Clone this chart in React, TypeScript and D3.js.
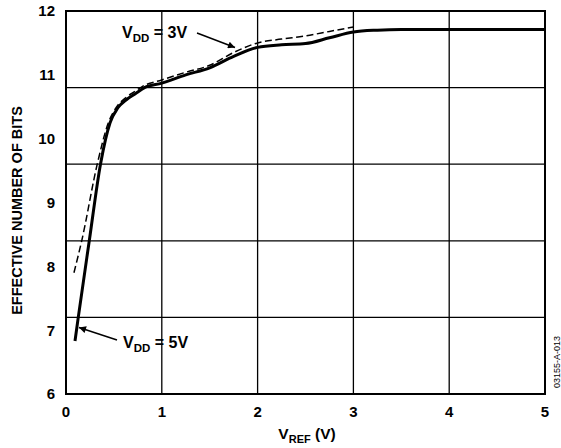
import React from "react";
import * as d3 from "d3";

const xTicks = [0, 1, 2, 3, 4, 5];
const yTicks = [6, 7, 8, 9, 10, 11, 12];
const yGrid = [7.2, 8.4, 9.6, 10.8];

const vref5 = [0.094, 0.128, 0.243, 0.36, 0.46, 0.54, 0.63, 0.72, 0.82, 1.0, 1.25, 1.5, 1.75, 2.0, 2.25, 2.5, 2.75, 3.0, 3.25, 3.5, 4.0, 5.0];
const enob5 = [6.83, 7.2, 8.4, 9.6, 10.25, 10.48, 10.61, 10.7, 10.8, 10.87, 11.0, 11.11, 11.29, 11.43, 11.47, 11.49, 11.58, 11.67, 11.7, 11.71, 11.71, 11.71];

const vref3 = [0.083, 0.164, 0.326, 0.44, 0.53, 0.63, 0.72, 0.8, 1.0, 1.25, 1.5, 1.75, 2.0, 2.25, 2.5, 2.75, 3.0];
const enob3 = [7.9, 8.4, 9.6, 10.24, 10.5, 10.65, 10.74, 10.82, 10.92, 11.04, 11.15, 11.35, 11.5, 11.56, 11.61, 11.68, 11.75];

const FONT = "Arial, 'Liberation Sans', Helvetica, sans-serif";

export default function App() {
  const W = 561, H = 448;
  const left = 66, right = 545, top = 11, bottom = 394;
  const x = d3.scaleLinear().domain([0, 5]).range([left, right]);
  const y = d3.scaleLinear().domain([6, 12]).range([bottom, top]);
  const line = d3.line<[number, number]>().x(d => x(d[0])).y(d => y(d[1])).curve(d3.curveMonotoneX);
  const d5 = line(vref5.map((v, i) => [v, enob5[i]] as [number, number])) || "";
  const d3v = line(vref3.map((v, i) => [v, enob3[i]] as [number, number])) || "";

  return (
    <svg width={W} height={H} style={{ position: "absolute", left: 0, top: 0, background: "#fff" }} fontFamily={FONT}>
      <defs>
        <marker id="ah" viewBox="0 0 10 10" refX="10" refY="5" markerWidth="10" markerHeight="7" orient="auto" markerUnits="userSpaceOnUse">
          <path d="M0,0 L10,5 L0,10 z" fill="#000" />
        </marker>
      </defs>
      {xTicks.slice(1, -1).map(t => (
        <line key={"gx" + t} x1={x(t)} x2={x(t)} y1={top} y2={bottom} stroke="#000" strokeWidth={1.3} />
      ))}
      {yGrid.map(t => (
        <line key={"gy" + t} x1={left} x2={right} y1={y(t)} y2={y(t)} stroke="#000" strokeWidth={1.3} />
      ))}
      <rect x={left} y={top} width={right - left} height={bottom - top} fill="none" stroke="#000" strokeWidth={2} />
      <path d={d3v} fill="none" stroke="#000" strokeWidth={1.5} strokeDasharray="7,3.5" />
      <path d={d5} fill="none" stroke="#000" strokeWidth={3} />
      {yTicks.map(t => (
        <text key={"yt" + t} x={55} y={y(t)} dy="0.36em" textAnchor="end" fontSize={15} fontWeight="bold">{t}</text>
      ))}
      {xTicks.map(t => (
        <text key={"xt" + t} x={x(t)} y={417} textAnchor="middle" fontSize={15} fontWeight="bold">{t}</text>
      ))}
      <text x={307} y={439} textAnchor="middle" fontSize={15.5} fontWeight="bold">
        V<tspan fontSize={11} dy={4}>REF</tspan><tspan dy={-4}> (V)</tspan>
      </text>
      <text transform={`translate(22,${(top + bottom) / 2 + 8}) rotate(-90)`} textAnchor="middle" fontSize={14.5} fontWeight="bold">
        EFFECTIVE NUMBER OF BITS
      </text>
      <text x={122} y={38} fontSize={16} fontWeight="bold">
        V<tspan fontSize={11.5} dy={4}>DD</tspan><tspan dy={-4}> = 3V</tspan>
      </text>
      <line x1={197} y1={33} x2={235} y2={47.5} stroke="#000" strokeWidth={1.5} markerEnd="url(#ah)" />
      <text x={123} y={348} fontSize={16} fontWeight="bold">
        V<tspan fontSize={11.5} dy={4}>DD</tspan><tspan dy={-4}> = 5V</tspan>
      </text>
      <line x1={117} y1={340} x2={79} y2={327.5} stroke="#000" strokeWidth={1.5} markerEnd="url(#ah)" />
      <text transform={`translate(560,362) rotate(-90)`} textAnchor="middle" fontSize={9}>03155-A-013</text>
    </svg>
  );
}
